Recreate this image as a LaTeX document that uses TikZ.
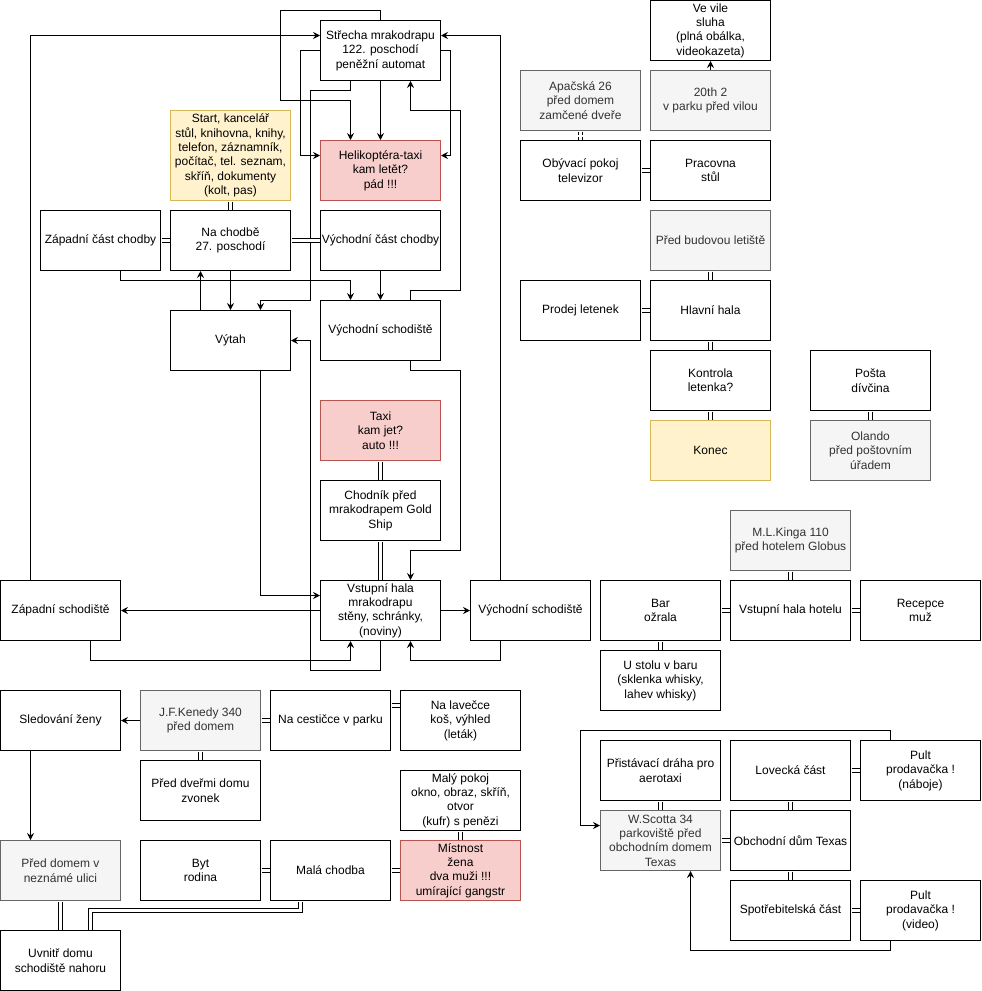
\documentclass[tikz,border=0pt]{standalone}
\usepackage{fontspec}
\setmainfont{Liberation Sans}
\usepackage{tikz}
\usetikzlibrary{positioning}
\usetikzlibrary{arrows.meta}
\definecolor{redfill}{HTML}{F8CECC}
\definecolor{redline}{HTML}{B85450}
\definecolor{yellowfill}{HTML}{FFF2CC}
\definecolor{yellowline}{HTML}{D6B656}
\definecolor{grayfill}{HTML}{F5F5F5}
\definecolor{grayline}{HTML}{666666}
\definecolor{graytext}{HTML}{333333}

\begin{document}
\begin{tikzpicture}[
x=1pt, y=-1pt,
boxnode/.style={rectangle, draw=black, fill=white, line width=1pt, minimum width=120pt, minimum height=60pt, inner sep=0pt, align=center, font=\fontsize{12}{14.4}\selectfont},
rednode/.style={boxnode, draw=redline, fill=redfill},
yellownode/.style={boxnode, draw=yellowline, fill=yellowfill},
graynode/.style={boxnode, draw=grayline, fill=grayfill, text=graytext},
arr/.style={-{Stealth[length=7pt,width=7pt,inset=2.5pt]}, line width=1pt},
link/.style={draw=black, double=white, double distance=2.8pt, line width=1pt, shorten <=0.5pt, shorten >=0.5pt},
dashlink/.style={link, dash pattern=on 3pt off 2pt},
]
\useasboundingbox (-0.5,-0.5) rectangle (981.5,990.5);

%Nodes - mrakodrap
\node[boxnode]    (strecha)   at (380,50)   {Střecha mrakodrapu\\122. poschodí\\peněžní automat};
\node[rednode]    (heli)      at (380,170)  {Helikoptéra-taxi\\kam letět?\\pád !!!};
\node[yellownode, minimum height=90pt] (start) at (230,155) {Start, kancelář\\stůl, knihovna, knihy,\\telefon, záznamník,\\počítač, tel. seznam,\\skříň, dokumenty\\(kolt, pas)};
\node[boxnode]    (zchod)     at (100,240)  {Západní část chodby};
\node[boxnode]    (nachodbe)  at (230,240)  {Na chodbě\\27. poschodí};
\node[boxnode]    (vchod)     at (380,240)  {Východní část chodby};
\node[boxnode]    (vytah)     at (230,340)  {Výtah};
\node[boxnode]    (vschod)    at (380,330)  {Východní schodiště};
\node[rednode]    (taxi)      at (380,430)  {Taxi\\kam jet?\\auto !!!};
\node[boxnode]    (chodnik)   at (380,510)  {Chodník před\\mrakodrapem Gold\\Ship};
\node[boxnode]    (vstup)     at (380,610)  {Vstupní hala\\mrakodrapu\\stěny, schránky,\\(noviny)};
\node[boxnode]    (zschod)    at (60,610)   {Západní schodiště};
\node[boxnode]    (vschod2)   at (530,610)  {Východní schodiště};

%Nodes - dum a park
\node[boxnode]    (sledovani) at (60,720)   {Sledování ženy};
\node[graynode]   (kenedy)    at (200,720)  {J.F.Kenedy 340\\před domem};
\node[boxnode]    (cesticka)  at (330,720)  {Na cestičce v parku};
\node[boxnode]    (lavecka)   at (460,720)  {Na lavečce\\koš, výhled\\(leták)};
\node[boxnode]    (dvere)     at (200,790)  {Před dveřmi domu\\zvonek};
\node[boxnode]    (pokoj)     at (460,800)  {Malý pokoj\\okno, obraz, skříň,\\otvor\\(kufr) s penězi};
\node[graynode]   (preddomem) at (60,870)   {Před domem v\\neznámé ulici};
\node[boxnode]    (byt)       at (200,870)  {Byt\\rodina};
\node[boxnode]    (chodba)    at (330,870)  {Malá chodba};
\node[rednode]    (mistnost)  at (460,870)  {Místnost\\žena\\dva muži !!!\\umírající gangstr};
\node[boxnode]    (uvnitr)    at (60,960)   {Uvnitř domu\\schodiště nahoru};

%Nodes - vila a letiste
\node[boxnode]    (vila)      at (710,30)   {Ve vile\\sluha\\(plná obálka,\\videokazeta)};
\node[graynode]   (apacska)   at (580,100)  {Apačská 26\\před domem\\zamčené dveře};
\node[graynode]   (park)      at (710,100)  {20th 2\\v parku před vilou};
\node[boxnode]    (obyvak)    at (580,170)  {Obývací pokoj\\televizor};
\node[boxnode]    (pracovna)  at (710,170)  {Pracovna\\stůl};
\node[graynode]   (letiste)   at (710,240)  {Před budovou letiště};
\node[boxnode]    (prodej)    at (580,310)  {Prodej letenek};
\node[boxnode]    (hala)      at (710,310)  {Hlavní hala};
\node[boxnode]    (kontrola)  at (710,380)  {Kontrola\\letenka?};
\node[yellownode] (konec)     at (710,450)  {Konec};
\node[boxnode]    (posta)     at (870,380)  {Pošta\\dívčina};
\node[graynode]   (olando)    at (870,450)  {Olando\\před poštovním\\úřadem};

%Nodes - hotel a obchodni dum
\node[graynode]   (kinga)     at (790,540)  {M.L.Kinga 110\\před hotelem Globus};
\node[boxnode]    (bar)       at (660,610)  {Bar\\ožrala};
\node[boxnode]    (hotel)     at (790,610)  {Vstupní hala hotelu};
\node[boxnode]    (recepce)   at (920,610)  {Recepce\\muž};
\node[boxnode]    (stul)      at (660,680)  {U stolu v baru\\(sklenka whisky,\\lahev whisky)};
\node[boxnode]    (pristavaci) at (660,770) {Přistávací dráha pro\\aerotaxi};
\node[boxnode]    (lovecka)   at (790,770)  {Lovecká část};
\node[boxnode]    (pultn)     at (920,770)  {Pult\\prodavačka !\\(náboje)};
\node[graynode]   (scotta)    at (660,840)  {W.Scotta 34\\parkoviště před\\obchodním domem\\Texas};
\node[boxnode]    (obchod)    at (790,840)  {Obchodní dům Texas};
\node[boxnode]    (spotreb)   at (790,910)  {Spotřebitelská část};
\node[boxnode]    (pultv)     at (920,910)  {Pult\\prodavačka !\\(video)};

%Lines - mrakodrap
\draw[arr] (30,0 |- zschod.north) |- (strecha.west |- 0,35);
\draw[arr] (500,0 |- vschod2.north) |- (strecha.east |- 0,35);
\draw[arr] (strecha.north) -- ++(0,-10) -| (280,100) -| (350,0 |- heli.north);
\draw[arr] (strecha) -- (heli);
\draw[arr] (strecha.west) -| (300,155) -- (heli.west |- 0,155);
\draw[arr] (strecha.east) -| (450,155) -- (heli.east |- 0,155);
\draw[arr] (410,0 |- vschod.north) -- (410,290) -| (460,110) -| (410,0 |- strecha.south);
\draw[arr] (350,0 |- strecha.south) -- (350,90) -| (310,300) -| (260,0 |- vytah.north);
\draw[arr] (380,0 |- vstup.south) -- (380,670) -| (310,340) -- (vytah.east);
\draw[arr] (120,0 |- zchod.south) -- (120,280) -| (350,0 |- vschod.north);
\draw[arr] (vchod) -- (vschod);
\draw[arr] (200,0 |- vytah.north) -- (200,0 |- nachodbe.south);
\draw[arr] (nachodbe) -- (vytah);
\draw[arr] (260,0 |- vytah.south) |- (vstup.west |- 0,595);
\draw[arr] (410,0 |- vschod.south) -- (410,370) -| (460,550) -| (410,0 |- vstup.north);
\draw[arr] (vstup) -- (zschod);
\draw[arr] (vstup) -- (vschod2);
\draw[arr] (90,0 |- zschod.south) -- (90,660) -| (350,0 |- vstup.south);
\draw[arr] (500,0 |- vschod2.south) -- (500,660) -| (410,0 |- vstup.south);
\draw[link] (start) -- (nachodbe);
\draw[link] (zchod) -- (nachodbe);
\draw[link] (nachodbe) -- (vchod);
\draw[link] (taxi) -- (chodnik);
\draw[link] (chodnik) -- (vstup);

%Lines - dum a park
\draw[arr] (kenedy) -- (sledovani);
\draw[arr] (30,0 |- sledovani.south) -- (30,0 |- preddomem.north);
\draw[link] (kenedy) -- (cesticka);
\draw[link] (cesticka.east |- 0,705) -- (lavecka.west |- 0,705);
\draw[link] (kenedy) -- (dvere);
\draw[link] (preddomem) -- (uvnitr);
\draw[link] (300,0 |- chodba.south) -- (300,910) -| (90,0 |- uvnitr.north);
\draw[link] (byt) -- (chodba);
\draw[link] (chodba) -- (mistnost);
\draw[link] (pokoj) -- (mistnost);

%Lines - vila a letiste
\draw[arr] (park) -- (vila);
\draw[dashlink] (apacska) -- (obyvak);
\draw[link] (obyvak) -- (pracovna);
\draw[link] (letiste) -- (hala);
\draw[link] (prodej) -- (hala);
\draw[link] (hala) -- (kontrola);
\draw[link] (kontrola) -- (konec);
\draw[link] (posta) -- (olando);

%Lines - hotel a obchodni dum
\draw[link] (kinga) -- (hotel);
\draw[link] (bar) -- (hotel);
\draw[link] (hotel) -- (recepce);
\draw[link] (bar) -- (stul);
\draw[link] (pristavaci) -- (scotta);
\draw[link] (lovecka) -- (pultn);
\draw[link] (lovecka) -- (obchod);
\draw[link] (scotta) -- (obchod);
\draw[link] (obchod) -- (spotreb);
\draw[link] (spotreb) -- (pultv);
\draw[arr] (890,0 |- pultn.north) -- (890,730) -| (580,825) -- (scotta.west |- 0,825);
\draw[arr] (890,0 |- pultv.south) -- (890,950) -| (690,0 |- scotta.south);
\end{tikzpicture}
\end{document}
